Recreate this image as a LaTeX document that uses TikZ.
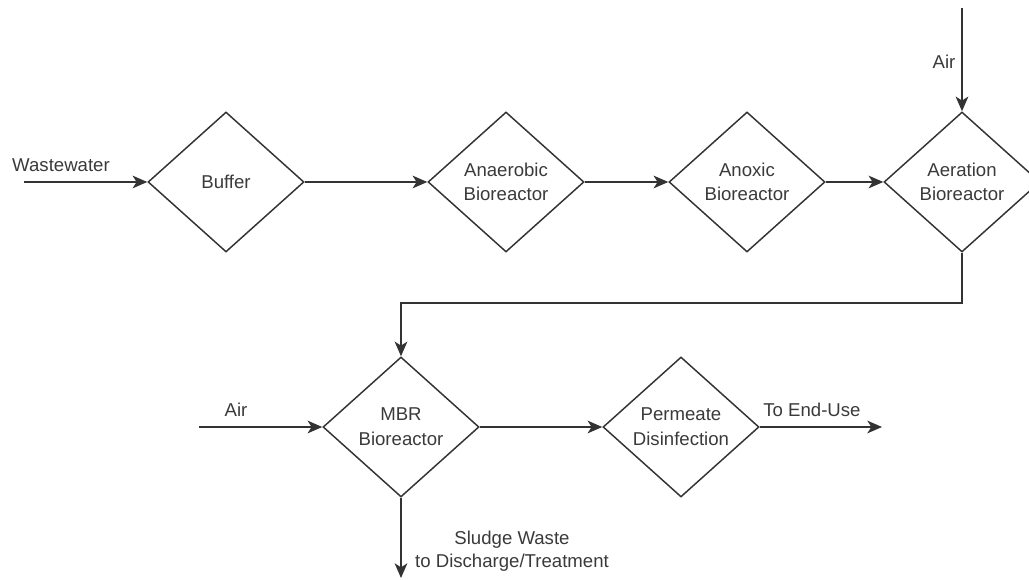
\documentclass[tikz,border=0pt]{standalone}
\usepackage{fontspec}
\setmainfont{Liberation Sans}
\usetikzlibrary{shapes.geometric, arrows.meta, positioning}
\definecolor{linegray}{HTML}{333333}
\definecolor{textgray}{HTML}{3A3A3A}
\tikzset{
>={Stealth[length=11pt,width=9.5pt,inset=3pt]}, % filled arrow heads
flow/.style={->, line width=1.1pt, draw=linegray}, % every connector
reactor/.style={diamond, draw=linegray, line width=1.1pt, minimum width=117pt, minimum height=105pt, inner sep=0pt, align=center, text=textgray, font=\fontsize{13.95pt}{18.5pt}\selectfont}, % process step
flowtext/.style={inner sep=0pt, align=center, text=textgray, font=\fontsize{13.95pt}{17.25pt}\selectfont}, % text on a connector
}

\begin{document}
\begin{tikzpicture}[x=0.75pt, y=-0.75pt]
        \useasboundingbox (0,0) rectangle (1029,580);

        % Treatment train
        \node[reactor] (buffer) at (226,182) {Buffer};
        \node[reactor] (anaerobic) at (506,182) {Anaerobic\\Bioreactor};
        \node[reactor] (anoxic) at (747,182) {Anoxic\\Bioreactor};
        \node[reactor] (aeration) at (962,182) {Aeration\\Bioreactor};

        % Membrane stage
        \node[reactor] (mbr) at (401,427) {MBR\\Bioreactor};
        \node[reactor] (permeate) at (681,427) {Permeate\\Disinfection};

        % Free ends
        \coordinate (ww-in) at (24,182);
        \coordinate (air-top) at (962,8);
        \coordinate (turn) at (962,303);
        \coordinate (air-mbr) at (199,427);
        \coordinate (end-use) at (882,427);
        \coordinate (sludge-out) at (401,578);

        \draw[flow] (ww-in) -- (buffer);
        \draw[flow] (buffer) -- (anaerobic);
        \draw[flow] (anaerobic) -- (anoxic);
        \draw[flow] (anoxic) -- (aeration);
        \draw[flow] (air-top) -- (aeration);
        \draw[flow] (aeration) -- (turn) -| (mbr);
        \draw[flow] (air-mbr) -- (mbr);
        \draw[flow] (mbr) -- (permeate);
        \draw[flow] (permeate) -- (end-use);
        \draw[flow] (mbr) -- (sludge-out);

        % Stream names
        \node[flowtext] (ww-text) at (61,165) {Wastewater};
        \node[flowtext] (air-aer-text) at (944,62) {Air};
        \node[flowtext] (air-mbr-text) at (236,410) {Air};
        \node[flowtext] (end-text) at (812,410) {To End-Use};
        \node[flowtext] (sludge-text) at (512,551) {Sludge Waste\\to Discharge/Treatment};
    \end{tikzpicture}
\end{document}
